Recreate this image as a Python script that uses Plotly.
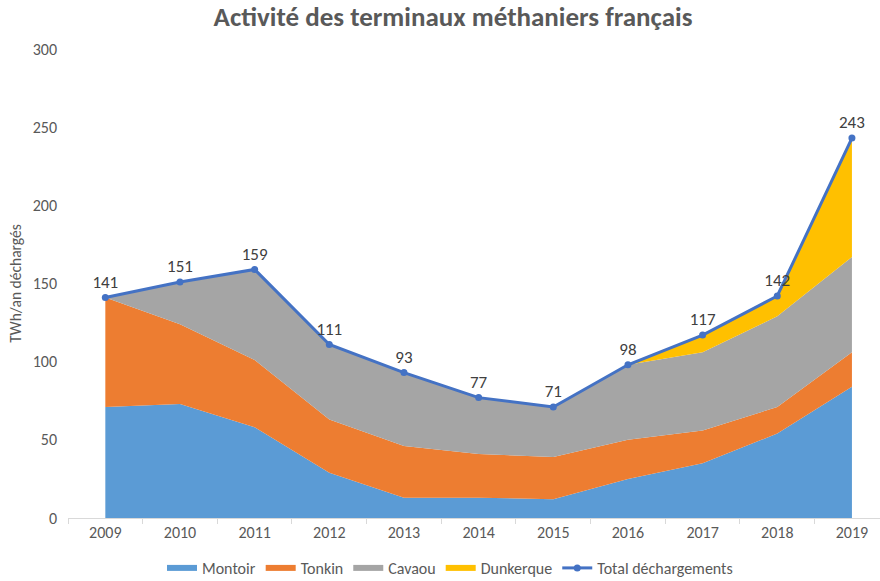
import plotly.graph_objects as go

years = ["2009", "2010", "2011", "2012", "2013", "2014", "2015", "2016", "2017", "2018", "2019"]
montoir = [71, 73, 58, 29, 13, 13, 12, 25, 35, 54, 84]
tonkin = [70, 51, 43, 34, 33, 28, 27, 25, 21, 17, 22]
cavaou = [0, 27, 58, 48, 47, 36, 32, 48, 50, 58, 61]
dunkerque = [0, 0, 0, 0, 0, 0, 0, 0, 11, 13, 76]
total = [141, 151, 159, 111, 93, 77, 71, 98, 117, 142, 243]

FONT = "Carlito, Calibri, Lato, sans-serif"
GRAY = "#595959"

fig = go.Figure()
for name, vals, col in [("Montoir", montoir, "#5B9BD5"),
                        ("Tonkin", tonkin, "#ED7D31"),
                        ("Cavaou", cavaou, "#A5A5A5"),
                        ("Dunkerque", dunkerque, "#FFC000")]:
    fig.add_trace(go.Scatter(x=years, y=vals, name=name, stackgroup="one",
                             mode="none", fillcolor=col, line=dict(width=0),
                             hoverinfo="skip"))

fig.add_trace(go.Scatter(x=years, y=total, name="Total déchargements",
                         mode="lines+markers+text", text=[str(v) for v in total],
                         textposition="top center",
                         textfont=dict(family=FONT, size=17, color="#404040"),
                         line=dict(color="#4472C4", width=3),
                         marker=dict(color="#4472C4", size=7),
                         hoverinfo="skip"))

fig.update_layout(
    width=880, height=581,
    margin=dict(l=68, r=0, t=49, b=63),
    paper_bgcolor="white", plot_bgcolor="white",
    font=dict(family=FONT, color=GRAY, size=15),
    title=dict(text="<b>Activité des terminaux méthaniers français</b>",
               x=453/880, xanchor="center", y=1 - 17/581, yanchor="middle",
               font=dict(family=FONT, size=27, color=GRAY)),
    showlegend=True,
    legend=dict(orientation="h", xref="container", yref="container",
                x=450/880, xanchor="center", y=1 - 568/581, yanchor="middle",
                font=dict(family=FONT, size=16, color=GRAY), traceorder="normal",
                itemwidth=30),
    xaxis=dict(type="category", range=[-0.5, 10.376], showgrid=False,
               showline=True, linecolor="#D9D9D9", linewidth=1,
               ticks="outside", tickson="boundaries", ticklen=5, tickcolor="#D9D9D9",
               tickfont=dict(family=FONT, size=16, color=GRAY)),
    yaxis=dict(range=[0, 300], dtick=50, showgrid=False, zeroline=False,
               showline=False, ticks="", ticklabelstandoff=10,
               tickfont=dict(family=FONT, size=16, color=GRAY),
               title=dict(text="TWh/an déchargés", standoff=7,
                          font=dict(family=FONT, size=15.5, color=GRAY))),
)

fig.write_html("out.html", config={"displayModeBar": False},
               post_script="document.body.style.margin='0';document.body.style.overflow='hidden';")
